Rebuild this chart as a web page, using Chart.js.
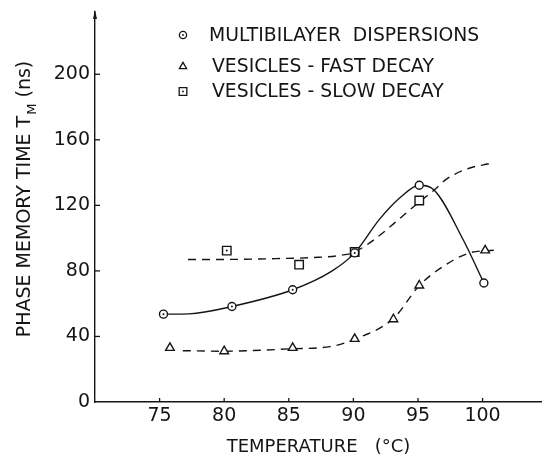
<!DOCTYPE html>
<html>
<head>
<meta charset="utf-8">
<script src="https://cdn.jsdelivr.net/npm/chart.js@4.4.1/dist/chart.umd.min.js"></script>
<style>
html, body { margin: 0; padding: 0; background: #fff; }
</style>
</head>
<body>
<canvas id="chart" width="542" height="458"></canvas>
<script>
// measured points
const multiTemp = [75.3, 80.6, 85.3, 90.1, 95.1, 100.1];
const multiTm = [53.6, 58.3, 68.5, 91, 132.3, 72.6];
const multiDots = [true, true, true, true, false, false];

const fastTemp = [75.8, 80, 85.3, 90.1, 93.1, 95.1, 100.2];
const fastTm = [33, 31, 33, 38.5, 50.5, 71.1, 92.5];

const slowTemp = [80.2, 85.8, 90.1, 95.1];
const slowTm = [92.4, 83.8, 91.5, 123];
const slowDots = [true, false, false, false];

// hand drawn curves
const multiCurveTemp = [75.3, 77.3, 80.6, 85.3, 88.3, 90.1, 92.0, 93.6, 95.1, 96.2, 98.5, 100.1];
const multiCurveTm = [53.6, 53.8, 58.3, 68.5, 79.7, 91, 111.3, 124.6, 132.3, 129.7, 99, 72.6];

const fastCurveTemp = [76.8, 80, 85.3, 88.2, 90.1, 93.1, 95.1, 97, 99, 100.9];
const fastCurveTm = [31.3, 31, 32.5, 33.8, 38.3, 51, 71, 83, 91, 92.6];

const slowCurveTemp = [77.2, 80, 84, 87, 89, 90.1, 95.1, 96.3, 97.2, 98.9, 100.5];
const slowCurveTm = [87, 87, 87.5, 88.2, 89.5, 91.5, 122, 129.7, 136, 142.5, 145.4];

const xTicks = [75, 80, 85, 90, 95, 100];
const yTicks = [0, 40, 80, 120, 160, 200];

const legendLabels = ['MULTIBILAYER  DISPERSIONS', 'VESICLES - FAST DECAY', 'VESICLES - SLOW DECAY'];

const ink = '#151515';
const font = '"DejaVu Sans", sans-serif';

function toPts(xs, ys) {
    return xs.map((x, i) => ({x: x, y: ys[i]}));
}

const marker = {
    showLine: false,
    pointBackgroundColor: '#fff',
    pointBorderColor: ink,
    pointBorderWidth: 1.4,
    clip: false
};
const curve = {
    showLine: true,
    pointRadius: 0,
    borderColor: ink,
    borderWidth: 1.4,
    cubicInterpolationMode: 'monotone',
    fill: false,
    clip: false
};

const paperMarks = {
    id: 'paperMarks',
    afterDatasetsDraw(chart) {
        const ctx = chart.ctx;
        ctx.save();
        ctx.fillStyle = ink;
        chart.data.datasets.forEach((ds, i) => {
            if (!ds.centreDots) return;
            chart.getDatasetMeta(i).data.forEach((pt, j) => {
                if (ds.centreDots[j]) {
                    ctx.beginPath();
                    ctx.arc(pt.x, pt.y, 1, 0, Math.PI * 2);
                    ctx.fill();
                }
            });
        });
        ctx.restore();
    },
    afterDraw(chart) {
        const ctx = chart.ctx;
        const xs = chart.scales.x;
        const ys = chart.scales.y;
        const area = chart.chartArea;
        ctx.save();
        ctx.strokeStyle = ink;
        ctx.fillStyle = ink;
        ctx.lineWidth = 1.3;

        // small inward tick marks
        for (let v of xTicks) {
            const px = xs.getPixelForValue(v);
            ctx.beginPath();
            ctx.moveTo(px, area.bottom);
            ctx.lineTo(px, area.bottom - 4);
            ctx.stroke();
        }
        for (let v of yTicks) {
            if (v === 0) continue;
            const py = ys.getPixelForValue(v);
            ctx.beginPath();
            ctx.moveTo(area.left, py);
            ctx.lineTo(area.left + 5, py);
            ctx.stroke();
        }

        // arrow on top of y axis
        ctx.beginPath();
        ctx.moveTo(area.left, area.top - 2);
        ctx.lineTo(area.left - 2, area.top + 7);
        ctx.lineTo(area.left + 2, area.top + 7);
        ctx.closePath();
        ctx.fill();

        // y axis title with subscript
        ctx.font = '19px ' + font;
        const partA = 'PHASE MEMORY TIME T';
        const partC = ' (ns)';
        const wA = ctx.measureText(partA).width;
        const wC = ctx.measureText(partC).width;
        ctx.font = '13px ' + font;
        const wB = ctx.measureText('M').width + 1;
        const total = wA + wB + wC;
        ctx.translate(25.5, 199 + total / 2);
        ctx.rotate(-Math.PI / 2);
        ctx.textBaseline = 'middle';
        ctx.textAlign = 'left';
        ctx.font = '19px ' + font;
        ctx.fillText(partA, 0, 0);
        ctx.font = '13px ' + font;
        ctx.fillText('M', wA + 1, 7);
        ctx.font = '19px ' + font;
        ctx.fillText(partC, wA + wB, 0);
        ctx.restore();

        // legend
        ctx.save();
        ctx.strokeStyle = ink;
        ctx.fillStyle = ink;
        const rows = [35, 66.5, 91.5];
        const styles = [
            {pointStyle: 'circle', radius: 3.6, dot: true},
            {pointStyle: 'triangle', radius: 4.2, dot: false},
            {pointStyle: 'rect', radius: 5.4, dot: true}
        ];
        const textX = [209, 212, 212];
        for (let i = 0; i < 3; i++) {
            ctx.fillStyle = '#fff';
            ctx.lineWidth = 1.3;
            Chart.helpers.drawPoint(ctx, {pointStyle: styles[i].pointStyle, radius: styles[i].radius, rotation: 0, borderWidth: 1.3}, 183, rows[i]);
            ctx.fillStyle = ink;
            if (styles[i].dot) {
                ctx.beginPath();
                ctx.arc(183, rows[i], 0.9, 0, Math.PI * 2);
                ctx.fill();
            }
            ctx.font = '18.8px ' + font;
            ctx.textBaseline = 'middle';
            ctx.textAlign = 'left';
            ctx.fillText(legendLabels[i], textX[i], rows[i] + 1);
        }
        ctx.restore();
    }
};

new Chart(document.getElementById('chart'), {
    type: 'scatter',
    data: {
        datasets: [
            Object.assign({label: legendLabels[0], data: toPts(multiTemp, multiTm), pointStyle: 'circle', pointRadius: 4, centreDots: multiDots}, marker),
            Object.assign({label: legendLabels[1], data: toPts(fastTemp, fastTm), pointStyle: 'triangle', pointRadius: 5}, marker),
            Object.assign({label: legendLabels[2], data: toPts(slowTemp, slowTm), pointStyle: 'rect', pointRadius: 6, centreDots: slowDots}, marker),
            Object.assign({label: 'multi curve', data: toPts(multiCurveTemp, multiCurveTm)}, curve),
            Object.assign({label: 'fast curve', data: toPts(fastCurveTemp, fastCurveTm), borderDash: [8, 6]}, curve),
            Object.assign({label: 'slow curve', data: toPts(slowCurveTemp, slowCurveTm), borderDash: [8, 6]}, curve)
        ]
    },
    options: {
        responsive: false,
        animation: false,
        layout: {autoPadding: false, padding: {top: 12, right: 0, bottom: 0, left: 0}},
        plugins: {
            legend: {display: false},
            tooltip: {enabled: false}
        },
        scales: {
            x: {
                type: 'linear',
                min: 70,
                max: 104.6,
                afterBuildTicks: scale => { scale.ticks = xTicks.map(v => ({value: v})); },
                afterFit: scale => {
                    scale.height = 56;
                    scale.paddingLeft = 0;
                    scale.paddingRight = 0;
                },
                grid: {display: false, drawTicks: false},
                border: {display: true, color: ink, width: 1.4},
                ticks: {color: ink, font: {family: font, size: 19}, padding: 3, maxRotation: 0},
                title: {display: true, text: 'TEMPERATURE   (°C)', color: ink, font: {family: font, size: 18}, padding: 0}
            },
            y: {
                min: 0,
                max: 238,
                afterBuildTicks: scale => { scale.ticks = yTicks.map(v => ({value: v})); },
                afterFit: scale => {
                    scale.width = 95;
                    scale.paddingTop = 0;
                    scale.paddingBottom = 0;
                },
                grid: {display: false, drawTicks: false},
                border: {display: true, color: ink, width: 1.4},
                ticks: {color: ink, font: {family: font, size: 19}, padding: 5}
            }
        }
    },
    plugins: [paperMarks]
});
</script>
</body>
</html>
